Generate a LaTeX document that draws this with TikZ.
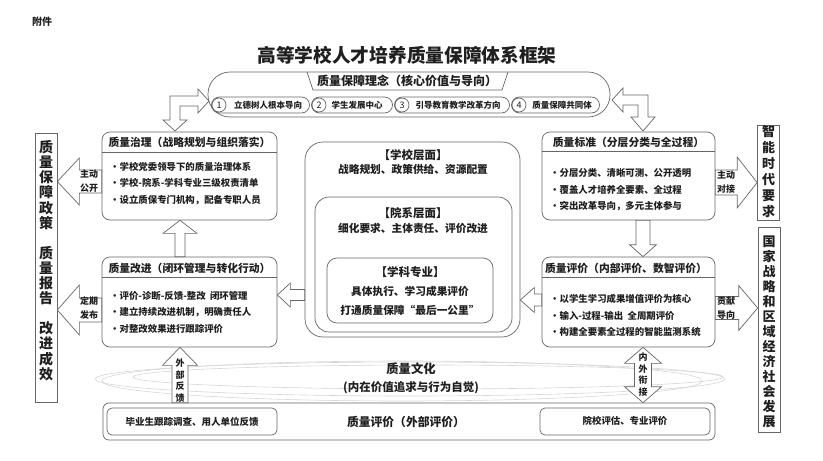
\documentclass[tikz,border=0pt]{standalone}
\usepackage{fontspec}
\setmainfont{Noto Sans CJK SC}
\usetikzlibrary{calc,positioning}
\colorlet{edge}{black!60}
\colorlet{ink}{black!88}
\newcommand\fsz[2]{\fontsize{#1pt}{#2pt}\selectfont}
\tikzset{
  boxline/.style={draw=edge, line width=0.7pt},
  roundbox/.style={boxline, fill=white, rounded corners=8pt, inner sep=0pt},
  ring/.style={draw=black!16, line width=0.6pt},
  fatarrow/.style={draw=edge, line width=0.7pt, fill=white, line join=miter},
  titletxt/.style={font=\bfseries\fsz{18.7}{20}, text=ink, inner sep=0pt},
  ideatxt/.style={font=\bfseries\fsz{12}{14}, text=ink, inner sep=0pt},
  pill/.style={boxline, rounded corners=8pt, minimum height=16pt, inner sep=0pt},
  numcirc/.style={boxline, circle, minimum size=14pt, inner sep=0pt, font=\fsz{9}{9}, text=ink},
  pilltxt/.style={font=\bfseries\fsz{8.5}{10}, text=ink, inner sep=0pt},
  headtxt/.style={font=\bfseries\fsz{10.8}{13}, text=ink, inner sep=0pt},
  listtxt/.style={font=\bfseries\fsz{9.4}{16.5}, text=ink, align=left, inner sep=0pt, anchor=west},
  lvlhead/.style={font=\bfseries\fsz{11.5}{14}, text=ink, inner sep=0pt},
  lvltxt/.style={font=\bfseries\fsz{10.7}{13}, text=ink, inner sep=0pt},
  colbox/.style={boxline, fill=white, minimum width=22pt, inner sep=0pt},
  coltxt/.style={font=\bfseries\fsz{#1}{#1}, text=ink, align=center, inner sep=0pt},
  arrtxt/.style={font=\bfseries\fsz{9}{14}, text=ink, align=center, inner sep=0pt},
  culttxt/.style={font=\bfseries\fsz{#1}{14}, text=ink, inner sep=0pt},
}
\newcommand\bul{\makebox[9.5pt][l]{•}}
% block arrow: tail, tip, half shaft, half head, head length
\newcommand\barrow[5]{%
  \draw[fatarrow] let \p1=(#1), \p2=(#2),
      \n1={atan2(\y2-\y1,\x2-\x1)}, \n2={veclen(\x2-\x1,\y2-\y1)},
      \n3={\n2-#5pt} in
    ($(\p1)+(\n1+90:#3pt)$) -- ($(\p1)+(\n1:\n3)+(\n1+90:#3pt)$)
    -- ($(\p1)+(\n1:\n3)+(\n1+90:#4pt)$) -- (\p2)
    -- ($(\p1)+(\n1:\n3)+(\n1-90:#4pt)$) -- ($(\p1)+(\n1:\n3)+(\n1-90:#3pt)$)
    -- ($(\p1)+(\n1-90:#3pt)$) -- cycle;}
\newcommand\dbarrow[5]{%
  \draw[fatarrow] let \p1=(#1), \p2=(#2),
      \n1={atan2(\y2-\y1,\x2-\x1)}, \n2={veclen(\x2-\x1,\y2-\y1)},
      \n3={\n2-#5pt} in
    (\p1) -- ($(\p1)+(\n1:#5pt)+(\n1+90:#4pt)$) -- ($(\p1)+(\n1:#5pt)+(\n1+90:#3pt)$)
    -- ($(\p1)+(\n1:\n3)+(\n1+90:#3pt)$) -- ($(\p1)+(\n1:\n3)+(\n1+90:#4pt)$)
    -- (\p2) -- ($(\p1)+(\n1:\n3)+(\n1-90:#4pt)$) -- ($(\p1)+(\n1:\n3)+(\n1-90:#3pt)$)
    -- ($(\p1)+(\n1:#5pt)+(\n1-90:#3pt)$) -- ($(\p1)+(\n1:#5pt)+(\n1-90:#4pt)$) -- cycle;}

\begin{document}
\begin{tikzpicture}[x=1pt, y=-1pt]
  \useasboundingbox (0,0) rectangle (823,461);

  % quality culture rings
  \draw[ring] (410,379) ellipse [x radius=315pt, y radius=17pt];
  \draw[ring] (428,377) ellipse [x radius=295pt, y radius=12pt];
  \draw[ring] (402,381) ellipse [x radius=300pt, y radius=20pt];
  \node[culttxt=12.3] (cult) at (411,369) {质量文化};
  \node[culttxt=11.5] (cultsub) at (411,388) {(内在价值追求与行为自觉)};

  \node[font=\bfseries\fsz{10}{12}, text=ink] (att) at (42,22) {附件};
  \node[titletxt] (title) at (407,55) {高等学校人才培养质量保障体系框架};

  % core ideas
  \node[boxline, rounded corners=22pt, minimum width=402pt, minimum height=45pt] (idea) at (409,94.5) {};
  \draw[boxline] (307,72) -- (313,90) -- (502,90) -- (508,72);
  \node[ideatxt] (ideah) at (407,81) {质量保障理念（核心价值与导向）};
  \node[pill, minimum width=98pt] (p1) at (260.5,105) {};
  \node[pill, minimum width=81pt] (p2) at (352,105) {};
  \node[pill, minimum width=115pt] (p3) at (452,105) {};
  \node[pill, minimum width=88pt] (p4) at (555.5,105) {};
  \node[numcirc] (c1) at (219,105) {1};
  \node[numcirc] (c2) at (319,105) {2};
  \node[numcirc] (c3) at (402,105) {3};
  \node[numcirc] (c4) at (519,105) {4};
  \node[pilltxt] (t1) at (268,105) {立德树人根本导向};
  \node[pilltxt] (t2) at (357,105) {学生发展中心};
  \node[pilltxt] (t3) at (458,105) {引导教育教学改革方向};
  \node[pilltxt] (t4) at (562,105) {质量保障共同体};

  % side columns
  \node[colbox, minimum height=269pt] (policy) at (46,267.5) {};
  \node[coltxt=14, font=\bfseries\fsz{14}{15.1}] (policyt) at (46,260.5)
    {质\\量\\保\\障\\政\\策\\[15.1pt]质\\量\\报\\告\\[15.1pt]改\\进\\成\\效};
  \node[colbox, minimum height=95pt] (era) at (768.5,172.5) {};
  \node[coltxt=13, font=\bfseries\fsz{13}{16}] (erat) at (768.5,172) {智\\能\\时\\代\\要\\求};
  \node[colbox, minimum height=205pt] (nation) at (769,329.5) {};
  \node[coltxt=13, font=\bfseries\fsz{13}{15}] (nationt) at (769,332)
    {国\\家\\战\\略\\和\\区\\域\\经\\济\\社\\会\\发\\展};

  % governance
  \node[roundbox, minimum width=175pt, minimum height=88pt] (gov) at (189.5,176) {};
  \draw[boxline] ($(gov.north west)+(0,21)$) -- ($(gov.north east)+(0,21)$);
  \node[headtxt] (govh) at (189.5,142) {质量治理（战略规划与组织落实）};
  \node[listtxt] (govl) at (110,183.5) {\bul 学校党委领导下的质量治理体系\\
    \bul 学校-院系-学科专业三级权责清单\\ \bul 设立质保专门机构，配备专职人员};

  % improvement
  \node[roundbox, minimum width=175pt, minimum height=90pt] (imp) at (189.5,302) {};
  \draw[boxline] ($(imp.north west)+(0,21)$) -- ($(imp.north east)+(0,21)$);
  \node[headtxt] (imph) at (189.5,268) {质量改进（闭环管理与转化行动）};
  \node[listtxt] (impl) at (110,312) {\bul 评价-诊断-反馈-整改\ \ 闭环管理\\
    \bul 建立持续改进机制，明确责任人\\ \bul 对整改效果进行跟踪评价};

  % standards
  \node[roundbox, minimum width=173pt, minimum height=88pt] (std) at (628.5,176) {};
  \draw[boxline] ($(std.north west)+(0,20)$) -- ($(std.north east)+(0,20)$);
  \node[headtxt] (stdh) at (628.5,142.5) {质量标准（分层分类与全过程）};
  \node[listtxt] (stdl) at (550,190) {\bul 分层分类、清晰可测、公开透明\\
    \bul 覆盖人才培养全要素、全过程\\ \bul 突出改革导向，多元主体参与};

  % internal evaluation
  \node[roundbox, minimum width=173pt, minimum height=90pt] (evl) at (628.5,302) {};
  \draw[boxline] ($(evl.north west)+(0,21)$) -- ($(evl.north east)+(0,21)$);
  \node[headtxt] (evlh) at (626,268) {质量评价（内部评价、数智评价）};
  \node[listtxt] (evll) at (550,315.5) {\bul 以学生学习成果增值评价为核心\\
    \bul 输入-过程-输出\ \ 全周期评价\\ \bul 构建全要素全过程的智能监测系统};

  % three levels
  \node[roundbox, rounded corners=18pt, minimum width=215pt, minimum height=195pt] (school) at (412.5,239.5) {};
  \node[roundbox, rounded corners=14pt, minimum width=197pt, minimum height=135pt] (dept) at (413.5,264.5) {};
  \node[roundbox, rounded corners=10pt, minimum width=166pt, minimum height=65pt] (major) at (410,290.5) {};
  \node[lvlhead] (schoolh) at (413,155) {【学校层面】};
  \node[lvltxt] (schoolt) at (413,169.5) {战略规划、政策供给、资源配置};
  \node[lvlhead] (depth) at (413,213) {【院系层面】};
  \node[lvltxt] (deptt) at (413,228) {细化要求、主体责任、评价改进};
  \node[lvlhead] (majorh) at (410,272) {【学科专业】};
  \node[lvltxt] (majort) at (410,291) {具体执行、学习成果评价};
  \node[lvltxt] (majorb) at (410,310) {打通质量保障“最后一公里”};

  % external evaluation
  \node[boxline, rounded corners=6pt, minimum width=612pt, minimum height=37pt] (ext) at (409,421.5) {};
  \node[boxline, rounded corners=5pt, minimum width=170pt, minimum height=27pt] (grad) at (192,421.5) {};
  \node[boxline, rounded corners=5pt, minimum width=170pt, minimum height=27pt] (audit) at (625,421.5) {};
  \node[culttxt=11.8] (exth) at (406,422) {质量评价（外部评价）};
  \node[pilltxt, font=\bfseries\fsz{9.5}{11}] (gradt) at (192,421.5) {毕业生跟踪调查、用人单位反馈};
  \node[pilltxt, font=\bfseries\fsz{9.4}{11}] (auditt) at (625,421) {院校评估、专业评价};

  % bent arrows from the core ideas
  \draw[fatarrow] (170,96) -- (198,96) -- (198,89) -- (209,101) -- (198,113) -- (198,106)
    -- (180,106) -- (180,120) -- (187,120) -- (175,131) -- (163,120) -- (170,120) -- cycle;
  \draw[fatarrow] (612,100) -- (623,88) -- (623,95) -- (648,95) -- (648,117) -- (655,117)
    -- (643,131) -- (631,117) -- (638,117) -- (638,105) -- (623,105) -- (623,112) -- cycle;

  % block arrows
  \barrow{gov.west |- 0,181.5}{policy.east |- 0,181.5}{11.5}{23.5}{22}
  \barrow{imp.west |- 0,310}{policy.east |- 0,310}{12}{25}{22}
  \barrow{imp.north -| 180,0}{gov.south -| 180,0}{5}{17}{13}
  \barrow{school.west |- 0,295}{imp.east |- 0,295}{5.5}{12}{13}
  \barrow{evl.west |- 0,300}{school.east |- 0,300}{6}{12.5}{14}
  \barrow{std.south -| 643,0}{evl.north -| 643,0}{7}{13.5}{12}
  \barrow{std.east |- 0,182.5}{era.west |- 0,182.5}{12.5}{25.5}{20}
  \barrow{evl.east |- 0,308}{nation.west |- 0,308}{11.5}{22.5}{19}
  \barrow{ext.north -| 180,0}{imp.south -| 180,0}{8}{17.5}{18}
  \dbarrow{evl.south -| 643,0}{ext.north -| 643,0}{8.5}{18.5}{16}

  \node[arrtxt] (a1) at (89,181.5) {主动\\公开};
  \node[arrtxt] (a2) at (89,308.5) {定期\\发布};
  \node[arrtxt] (a3) at (726,182.5) {主动\\对接};
  \node[arrtxt] (a4) at (726,308.5) {贡献\\导向};
  \node[arrtxt, font=\bfseries\fsz{9}{11.7}] (a5) at (180,380.5) {外\\部\\反\\馈};
  \node[arrtxt, font=\bfseries\fsz{9}{11.7}] (a6) at (643,374.5) {内\\外\\衔\\接};
\end{tikzpicture}
\end{document}
